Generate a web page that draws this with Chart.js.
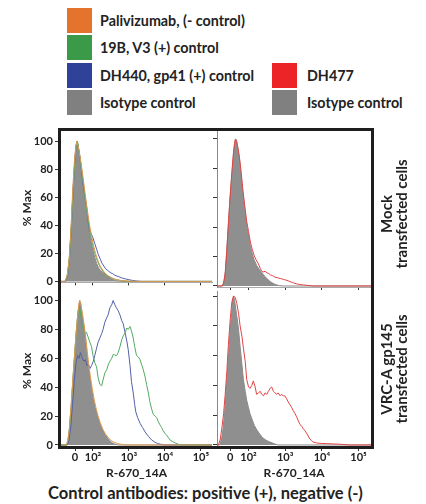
<!DOCTYPE html>
<html><head><meta charset="utf-8">
<script src="https://cdn.jsdelivr.net/npm/chart.js@4.4.1/dist/chart.umd.min.js"></script>
<style>
html,body{margin:0;padding:0;background:#fff;}
body{width:426px;height:504px;position:relative;overflow:hidden;font-family:Lato,"Open Sans",sans-serif;color:#222;}
canvas{position:absolute;}
.sw{position:absolute;width:25px;height:25px;}
.lt{position:absolute;font-weight:700;font-size:14.3px;line-height:25px;white-space:nowrap;color:#222;}
.frame{position:absolute;left:58px;top:128px;width:316px;height:321px;border:3px solid #1e1e1e;box-sizing:border-box;pointer-events:none;}
.rowlab{position:absolute;width:180px;height:32px;margin-left:-90px;margin-top:-16px;transform:rotate(-90deg);text-align:center;font-weight:700;font-size:15px;line-height:15px;color:#222;}
.caption{position:absolute;left:0;width:411px;top:482px;text-align:center;font-weight:700;font-size:16.5px;line-height:22px;color:#222;}
</style></head><body>
<div id="legend"></div>
<canvas id="tl" width="216" height="166" style="left:0;top:125px"></canvas>
<canvas id="tr" width="164" height="166" style="left:212px;top:125px"></canvas>
<canvas id="bl" width="216" height="193" style="left:0;top:287px"></canvas>
<canvas id="br" width="164" height="193" style="left:212px;top:287px"></canvas>
<div class="frame"></div>
<div class="rowlab" style="left:395px;top:214px">Mock<br>transfected cells</div>
<div class="rowlab" style="left:395px;top:369px">VRC-A gp145<br>transfected cells</div>
<div class="caption">Control antibodies: positive (+), negative (-)</div>
<script>
// ---- tick labels / categories ----
const xTickValues = [0, 0.5, 1.5, 2.5, 3.5];
const xTickLabels = ['0', '10\u00b2', '10\u00b3', '10\u2074', '10\u2075'];
const yTickValues = [0, 20, 40, 60, 80, 100];
const xAxisTitle = 'R-670_14A';
const yAxisTitle = '% Max';
const legendLeft = ['Palivizumab, (- control)', '19B, V3 (+) control', 'DH440, gp41 (+) control', 'Isotype control'];
const legendRight = ['DH477', 'Isotype control'];

// ---- series: [channel position (decades, 0 = 0, 0.5 = 10^2), % Max] ----
// Mock transfected cells, control antibodies
const mockIsotype = [[-0.40,0],[-0.30,0],[-0.25,1],[-0.20,6],[-0.15,18],[-0.10,40],[-0.05,68],[0.00,88],[0.03,97],[0.05,100],[0.07,98],[0.10,93],[0.15,84],[0.20,74],[0.25,64],[0.30,54],[0.35,44],[0.40,35],[0.45,28],[0.50,22],[0.55,17],[0.60,13],[0.65,10],[0.70,8],[0.80,6],[0.90,4],[1.00,2],[1.10,0.8],[1.20,0.2],[1.40,0],[3.81,0]];
const mockPalivizumab = [[-0.40,0],[-0.28,0],[-0.22,4],[-0.17,14],[-0.12,34],[-0.07,62],[-0.02,85],[0.02,96],[0.05,100],[0.08,97],[0.12,92],[0.17,84],[0.22,75],[0.27,65],[0.32,55],[0.37,46],[0.42,38],[0.47,31],[0.52,25],[0.57,20],[0.62,16],[0.70,11],[0.80,7],[0.90,4.5],[1.00,2.8],[1.10,1.6],[1.25,0.8],[1.45,0.3],[1.70,0],[3.81,0]];
const mock19B = [[-0.40,0],[-0.27,0],[-0.21,5],[-0.16,16],[-0.11,36],[-0.06,62],[-0.01,84],[0.03,97],[0.05,99],[0.07,100],[0.10,95],[0.15,86],[0.20,76],[0.25,66],[0.30,56],[0.35,47],[0.40,38],[0.45,31],[0.50,25],[0.55,20],[0.60,16],[0.70,10],[0.80,6.5],[0.90,4],[1.00,2.5],[1.15,1.2],[1.30,0.5],[1.50,0],[3.81,0]];
const mockDH440 = [[-0.40,0],[-0.27,0],[-0.21,4],[-0.16,15],[-0.11,35],[-0.06,62],[-0.01,85],[0.03,97],[0.06,100],[0.09,96],[0.13,90],[0.18,80],[0.23,68],[0.28,60],[0.33,52],[0.37,42],[0.41,36],[0.45,34],[0.50,31],[0.55,27],[0.60,23],[0.65,19],[0.70,16],[0.75,13],[0.80,11],[0.85,9],[0.90,8],[0.95,7],[1.00,6],[1.05,5.5],[1.10,4.5],[1.20,3.5],[1.30,2.5],[1.40,1.8],[1.50,1.2],[1.60,0.7],[1.70,0.3],[1.85,0],[3.81,0]];
// Mock transfected cells, DH477
const mockIsotypeR = [[-0.36,0],[-0.22,0],[-0.18,2],[-0.14,8],[-0.10,22],[-0.05,42],[0.00,62],[0.05,77],[0.09,90],[0.12,97],[0.15,100],[0.18,98],[0.22,92],[0.25,87],[0.30,75],[0.34,64],[0.40,51],[0.45,41],[0.50,34],[0.55,27],[0.59,23],[0.65,18],[0.72,14],[0.80,11],[0.91,7.5],[1.00,5],[1.09,3],[1.18,1.6],[1.27,0.7],[1.35,0.2],[1.45,0],[3.84,0]];
const mockDH477 = [[-0.36,0],[-0.21,0],[-0.17,3],[-0.13,10],[-0.09,25],[-0.04,46],[0.01,65],[0.05,79],[0.09,91],[0.12,97],[0.14,100],[0.17,99],[0.21,94],[0.25,88],[0.30,77],[0.34,67],[0.40,54],[0.45,44],[0.50,37],[0.55,30],[0.60,25],[0.65,21],[0.70,18],[0.77,15],[0.82,12],[0.86,10],[0.90,9.5],[0.95,10],[1.00,9],[1.05,8.5],[1.10,7.5],[1.16,7],[1.22,6],[1.30,5.5],[1.38,5],[1.45,4.5],[1.52,4],[1.58,3.5],[1.63,3],[1.70,2.3],[1.80,1.5],[1.90,1],[2.00,0.7],[2.12,0.4],[2.26,0],[3.84,0]];
// VRC-A gp145 transfected cells, control antibodies
const vrcIsotype = [[-0.39,0],[-0.22,0],[-0.19,2],[-0.16,10],[-0.11,25],[-0.06,43],[-0.01,62],[0.03,77],[0.07,88],[0.10,95],[0.13,100],[0.16,97],[0.20,90],[0.24,83],[0.28,77],[0.32,66],[0.37,55],[0.42,46],[0.46,39],[0.51,32],[0.56,26],[0.62,21],[0.69,15],[0.76,11],[0.83,7.5],[0.90,5],[0.97,3],[1.03,1.5],[1.10,0.6],[1.20,0],[3.81,0]];
const vrcPalivizumab = [[-0.39,0],[-0.24,0],[-0.20,3],[-0.16,11],[-0.11,27],[-0.06,46],[-0.01,64],[0.04,80],[0.08,92],[0.11,98],[0.13,100],[0.16,98],[0.20,92],[0.25,84],[0.29,76],[0.34,65],[0.38,56],[0.43,47],[0.48,39],[0.53,32],[0.58,26],[0.64,20],[0.70,15.5],[0.77,11],[0.85,7.5],[0.93,5],[1.00,3.2],[1.08,2],[1.18,1],[1.30,0.4],[1.45,0],[3.81,0]];
const vrc19B = [[-0.39,0],[-0.24,0],[-0.20,3],[-0.16,10],[-0.11,26],[-0.06,45],[-0.01,63],[0.04,80],[0.08,91],[0.11,96],[0.14,94],[0.17,88],[0.20,82],[0.24,80],[0.28,77],[0.32,78],[0.36,75],[0.40,72],[0.46,68],[0.50,62],[0.55,57],[0.60,54],[0.64,47],[0.69,42],[0.74,41],[0.78,45],[0.83,50],[0.88,52],[0.93,56],[0.97,58],[1.02,60],[1.07,63],[1.11,62],[1.16,62],[1.20,64],[1.25,68],[1.30,73],[1.35,76],[1.40,78],[1.44,81],[1.48,80],[1.53,82],[1.57,79],[1.62,74],[1.66,68],[1.71,62],[1.76,61],[1.81,59],[1.86,55],[1.90,52],[1.95,47],[1.99,42],[2.04,36],[2.08,30],[2.13,25],[2.18,21],[2.23,20],[2.27,19],[2.32,16],[2.36,14],[2.41,12],[2.45,10],[2.50,8],[2.55,6.7],[2.60,5],[2.64,3.5],[2.70,2.5],[2.78,1.5],[2.87,0.5],[2.95,0],[3.81,0]];
const vrcDH440 = [[-0.39,0],[-0.22,0],[-0.17,3],[-0.12,12],[-0.07,28],[-0.02,45],[0.03,57],[0.07,62],[0.11,60],[0.15,64],[0.19,61],[0.24,58],[0.29,59],[0.33,55],[0.37,56],[0.42,53],[0.46,55],[0.51,58],[0.55,62],[0.60,67],[0.64,71],[0.69,74],[0.74,77],[0.78,80],[0.83,85],[0.88,88],[0.92,90],[0.97,95],[1.02,97],[1.06,100],[1.11,97],[1.15,95],[1.20,93],[1.25,90],[1.30,86],[1.34,84],[1.39,78],[1.44,72],[1.48,66],[1.53,55],[1.57,44],[1.62,36],[1.66,28],[1.69,23],[1.74,19],[1.81,15],[1.88,12],[1.95,9],[2.04,6],[2.13,3.5],[2.22,2],[2.30,1],[2.40,0.4],[2.50,0],[3.81,0]];
// VRC-A gp145 transfected cells, DH477
const vrcIsotypeR = [[-0.36,0],[-0.30,0],[-0.27,1],[-0.23,5],[-0.20,10],[-0.15,22],[-0.09,43],[-0.04,62],[0.00,77],[0.04,89],[0.07,97],[0.09,100],[0.12,97],[0.16,90],[0.20,83],[0.23,77],[0.27,66],[0.32,54],[0.36,44],[0.41,36],[0.45,30],[0.50,25],[0.54,21],[0.60,17],[0.66,13],[0.73,10],[0.80,7.5],[0.88,5],[0.96,3.5],[1.05,2.3],[1.14,1.4],[1.22,0.6],[1.30,0],[3.84,0]];
const vrcDH477 = [[-0.36,0],[-0.32,0],[-0.27,4],[-0.23,11],[-0.18,21],[-0.14,33],[-0.09,50],[-0.05,67],[0.00,84],[0.045,96],[0.09,100],[0.14,99],[0.18,95],[0.23,88],[0.27,80],[0.32,73],[0.36,65],[0.41,56],[0.45,44],[0.50,39],[0.54,38],[0.59,40],[0.63,43],[0.68,39],[0.72,34],[0.77,35],[0.82,36],[0.86,34],[0.91,33],[0.95,35],[1.00,34],[1.04,36],[1.09,38],[1.13,39],[1.18,36],[1.22,35],[1.27,34],[1.31,35],[1.36,33],[1.40,34],[1.45,33],[1.49,33],[1.54,31],[1.58,29],[1.63,27],[1.68,25],[1.72,23],[1.77,21],[1.81,19],[1.86,16],[1.90,14],[1.95,12.5],[1.99,11],[2.04,9.5],[2.08,8],[2.13,6],[2.17,4],[2.22,3],[2.26,2],[2.36,1.3],[2.50,1],[2.63,0.9],[2.80,0.7],[2.99,0.5],[3.26,0],[3.84,0]];

// ---- styles ----
const C = {orange:'#E4732B', green:'#3A9A48', blue:'#2F4199', red:'#EC2427', gray:'#808080'};
const LINE = {orange:'#DE9A4E', green:'#55AA62', blue:'#5560AA', red:'#E24444'};
const tickFont = {family:'Lato', weight:'bold', size:11};

// legend (HTML)
const lg = document.getElementById('legend');
const leftCols = [C.orange, C.green, C.blue, C.gray];
const rowTop = [8, 35, 63, 90];
legendLeft.forEach((t, i) => {
  lg.insertAdjacentHTML('beforeend', `<div class="sw" style="left:67px;top:${rowTop[i]}px;background:${leftCols[i]}"></div><div class="lt" style="left:100px;top:${rowTop[i]}px">${t}</div>`);
});
const rightCols = [C.red, C.gray];
legendRight.forEach((t, i) => {
  lg.insertAdjacentHTML('beforeend', `<div class="sw" style="left:272px;top:${rowTop[i+2]}px;background:${rightCols[i]}"></div><div class="lt" style="left:307px;top:${rowTop[i+2]}px">${t}</div>`);
});

const pts = a => a.map(p => ({x: p[0], y: p[1]}));
const lineSet = (a, col) => ({data: pts(a), borderColor: col, borderWidth: 1, fill: false, pointRadius: 0});
const fillSet = a => ({data: pts(a), borderColor: '#8a8a8a', borderWidth: 1, backgroundColor: 'rgba(128,128,128,0.88)', fill: 'origin', pointRadius: 0});

function makeChart(id, datasets, c) {
  return new Chart(document.getElementById(id), {
    type: 'line',
    data: {datasets},
    options: {
      responsive: false, animation: false, events: [],
      layout: {padding: {left: 0, right: c.padR, top: c.padT, bottom: 0}},
      plugins: {legend: {display: false}, tooltip: {enabled: false}},
      elements: {line: {tension: 0}, point: {radius: 0}},
      scales: {
        x: {
          type: 'linear', min: c.xMin, max: c.xMax,
          afterBuildTicks: s => { s.ticks = xTickValues.map(v => ({value: v})); },
          afterFit: s => { s.height = c.xH; },
          grid: {display: true, drawOnChartArea: false, drawTicks: true, tickLength: c.xLabels ? 5 : 3, color: '#333', tickWidth: 1},
          border: {display: !c.xLabels, color: '#aaa', width: 1},
          ticks: {display: c.xLabels, padding: 0, maxRotation: 0, autoSkip: false, font: tickFont, color: '#222',
                  callback: v => xTickLabels[xTickValues.indexOf(v)]},
          title: {display: c.xLabels, text: xAxisTitle, font: {family:'Lato', weight:'bold', size:12}, color: '#222', padding: {top:0, bottom:0}}
        },
        y: {
          type: 'linear', min: c.yMin, max: c.yMax,
          afterBuildTicks: s => { s.ticks = yTickValues.map(v => ({value: v})); },
          afterFit: s => { s.width = c.yW; },
          grid: {display: true, drawOnChartArea: false, drawTicks: true, tickLength: c.yLabels ? 6 : 4, color: '#333', tickWidth: 1},
          border: {display: !c.yLabels, color: '#888', width: 1},
          ticks: {display: c.yLabels, padding: 2, font: tickFont, color: '#222', callback: v => String(v)},
          title: {display: c.yLabels, text: yAxisTitle, font: {family:'Lato', weight:'bold', size:12}, color: '#222', padding: {top: 20, bottom: 0}}
        }
      }
    }
  });
}

const leftX = {xMin: -0.39, xMax: 3.81};
const rightX = {xMin: -0.36, xMax: 3.84};
makeChart('tl', [lineSet(mockPalivizumab, LINE.orange), lineSet(mock19B, LINE.green), lineSet(mockDH440, LINE.blue), fillSet(mockIsotype)],
  Object.assign({yMin: -0.7, yMax: 105.4, padR: 4, padT: 6, xH: 4, yW: 61, xLabels: false, yLabels: true}, leftX));
makeChart('tr', [lineSet(mockDH477, LINE.red), fillSet(mockIsotypeR)],
  Object.assign({yMin: -0.7, yMax: 105.4, padR: 5, padT: 6, xH: 4, yW: 5, xLabels: false, yLabels: false}, rightX));
makeChart('bl', [lineSet(vrcPalivizumab, LINE.orange), lineSet(vrc19B, LINE.green), lineSet(vrcDH440, LINE.blue), fillSet(vrcIsotype)],
  Object.assign({yMin: -0.7, yMax: 103.4, padR: 4, padT: 4, xH: 34, yW: 61, xLabels: true, yLabels: true}, leftX));
makeChart('br', [lineSet(vrcDH477, LINE.red), fillSet(vrcIsotypeR)],
  Object.assign({yMin: -0.7, yMax: 103.4, padR: 5, padT: 4, xH: 34, yW: 5, xLabels: true, yLabels: false}, rightX));
</script>
</body></html>
